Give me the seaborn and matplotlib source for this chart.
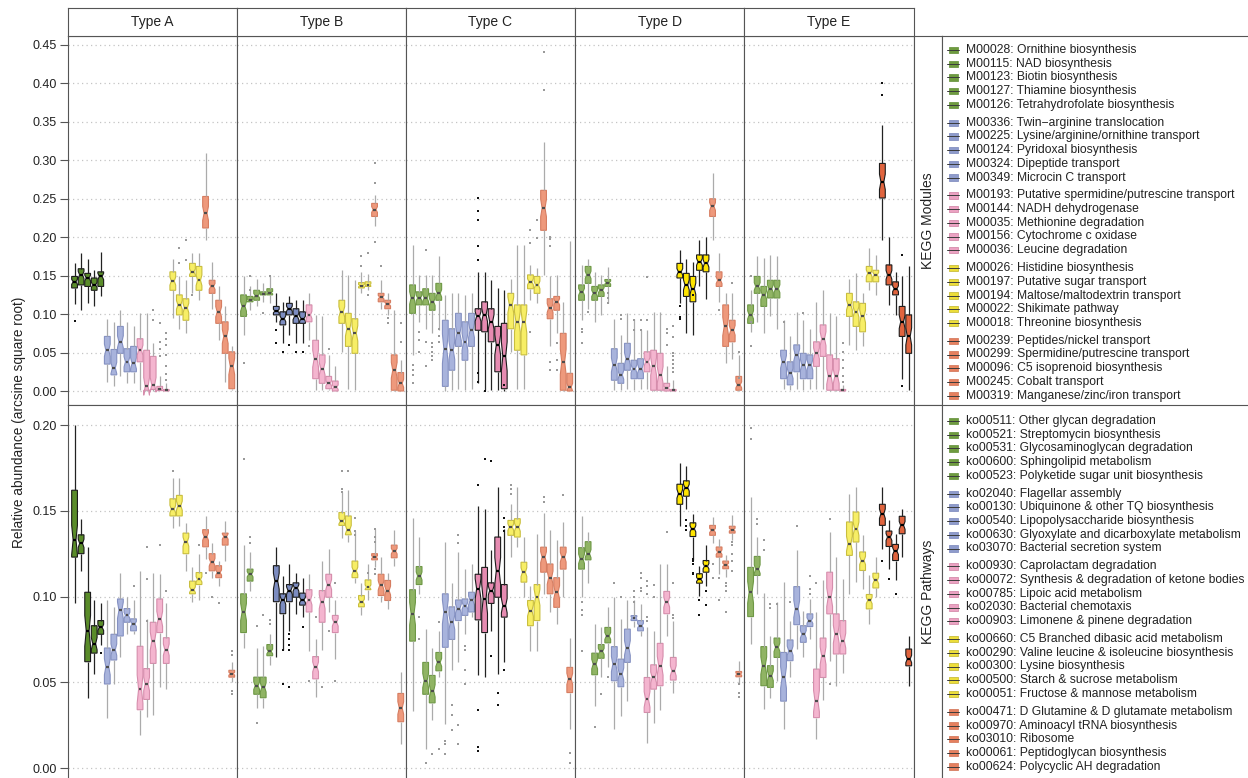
import numpy as np
import pandas as pd
import matplotlib
matplotlib.use("Agg")
import matplotlib.pyplot as plt
from matplotlib.patches import Rectangle
from matplotlib.ticker import FormatStrFormatter
import seaborn as sns

# ---------------------------------------------------------------- data
TYPES = ["Type A", "Type B", "Type C", "Type D", "Type E"]

MODULE_LABELS = [
    "M00028: Ornithine biosynthesis", "M00115: NAD biosynthesis", "M00123: Biotin biosynthesis",
    "M00127: Thiamine biosynthesis", "M00126: Tetrahydrofolate biosynthesis",
    "M00336: Twin\u2212arginine translocation", "M00225: Lysine/arginine/ornithine transport",
    "M00124: Pyridoxal biosynthesis", "M00324: Dipeptide transport", "M00349: Microcin C transport",
    "M00193: Putative spermidine/putrescine transport", "M00144: NADH dehydrogenase",
    "M00035: Methionine degradation", "M00156: Cytochrome c oxidase", "M00036: Leucine degradation",
    "M00026: Histidine biosynthesis", "M00197: Putative sugar transport",
    "M00194: Maltose/maltodextrin transport", "M00022: Shikimate pathway", "M00018: Threonine biosynthesis",
    "M00239: Peptides/nickel transport", "M00299: Spermidine/putrescine transport",
    "M00096: C5 isoprenoid biosynthesis", "M00245: Cobalt transport", "M00319: Manganese/zinc/iron transport",
]
PATHWAY_LABELS = [
    "ko00511: Other glycan degradation", "ko00521: Streptomycin biosynthesis",
    "ko00531: Glycosaminoglycan degradation", "ko00600: Sphingolipid metabolism",
    "ko00523: Polyketide sugar unit biosynthesis",
    "ko02040: Flagellar assembly", "ko00130: Ubiquinone & other TQ biosynthesis",
    "ko00540: Lipopolysaccharide biosynthesis", "ko00630: Glyoxylate and dicarboxylate metabolism",
    "ko03070: Bacterial secretion system",
    "ko00930: Caprolactam degradation", "ko00072: Synthesis & degradation of ketone bodies",
    "ko00785: Lipoic acid metabolism", "ko02030: Bacterial chemotaxis", "ko00903: Limonene & pinene degradation",
    "ko00660: C5 Branched dibasic acid metabolism", "ko00290: Valine leucine & isoleucine biosynthesis",
    "ko00300: Lysine biosynthesis", "ko00500: Starch & sucrose metabolism", "ko00051: Fructose & mannose metabolism",
    "ko00471: D Glutamine & D glutamate metabolism", "ko00970: Aminoacyl tRNA biosynthesis",
    "ko03010: Ribosome", "ko00061: Peptidoglycan biosynthesis", "ko00624: Polycyclic AH degradation",
]

# (whisker low, Q1, median, Q3, whisker high) per feature, KEGG modules
MOD_A = [(0.113,0.134,0.142,0.149,0.166),(0.105,0.138,0.151,0.159,0.179),(0.114,0.136,0.147,0.153,0.172),
         (0.110,0.131,0.138,0.147,0.157),(0.123,0.136,0.149,0.155,0.181),
         (0.012,0.035,0.053,0.071,0.094),(0.006,0.021,0.030,0.054,0.090),(0.019,0.049,0.064,0.084,0.105),
         (0.010,0.025,0.038,0.055,0.090),(0.010,0.025,0.036,0.058,0.085),
         (0.001,0.038,0.053,0.068,0.102),(0.000,0.001,0.006,0.053,0.101),(0.000,0.002,0.008,0.045,0.062),
         (0.000,0.0005,0.002,0.006,0.019),(0.000,0.000,0.001,0.002,0.010),
         (0.095,0.131,0.143,0.155,0.172),(0.081,0.099,0.112,0.125,0.149),(0.075,0.092,0.108,0.120,0.144),
         (0.127,0.149,0.155,0.166,0.179),(0.118,0.131,0.144,0.162,0.179),
         (0.196,0.212,0.231,0.253,0.309),(0.107,0.127,0.136,0.144,0.168),(0.066,0.088,0.103,0.118,0.136),
         (0.012,0.049,0.071,0.090,0.110),(0.001,0.003,0.032,0.051,0.058)]
MOD_B = [(0.073,0.097,0.110,0.125,0.149),(0.105,0.116,0.118,0.123,0.137),(0.110,0.118,0.124,0.131,0.146),
         (0.116,0.125,0.126,0.129,0.140),(0.114,0.125,0.128,0.133,0.149),
         (0.090,0.099,0.104,0.110,0.127),(0.062,0.086,0.094,0.103,0.116),(0.073,0.099,0.107,0.114,0.123),
         (0.062,0.088,0.097,0.107,0.118),(0.062,0.088,0.094,0.103,0.118),
         (0.066,0.090,0.099,0.112,0.127),(0.001,0.016,0.042,0.066,0.099),(0.001,0.010,0.029,0.047,0.097),
         (0.001,0.003,0.010,0.019,0.047),(0.000,0.000,0.005,0.013,0.032),
         (0.051,0.088,0.103,0.118,0.157),(0.003,0.058,0.081,0.101,0.151),(0.001,0.049,0.075,0.094,0.144),
         (0.128,0.134,0.137,0.141,0.155),(0.131,0.136,0.138,0.142,0.152),
         (0.214,0.227,0.236,0.244,0.255),(0.107,0.116,0.122,0.127,0.144),(0.099,0.107,0.113,0.118,0.127),
         (0.000,0.001,0.027,0.047,0.105),(0.000,0.000,0.010,0.024,0.040)]
MOD_C = [(0.047,0.101,0.121,0.138,0.190),(0.090,0.112,0.121,0.129,0.151),(0.081,0.112,0.121,0.133,0.151),
         (0.075,0.105,0.116,0.127,0.151),(0.079,0.118,0.127,0.140,0.175),
         (0.000,0.006,0.055,0.092,0.125),(0.001,0.027,0.053,0.081,0.127),(0.003,0.058,0.075,0.101,0.127),
         (0.001,0.040,0.064,0.090,0.125),(0.003,0.058,0.079,0.101,0.127),
         (0.010,0.079,0.097,0.107,0.155),(0.001,0.077,0.099,0.116,0.155),(0.001,0.064,0.090,0.107,0.144),
         (0.001,0.025,0.060,0.084,0.134),(0.000,0.003,0.045,0.088,0.131),
         (0.051,0.081,0.112,0.127,0.146),(0.003,0.053,0.090,0.112,0.190),(0.003,0.047,0.090,0.112,0.190),
         (0.118,0.133,0.142,0.151,0.164),(0.114,0.127,0.138,0.149,0.160),
         (0.151,0.209,0.238,0.261,0.324),(0.058,0.094,0.108,0.120,0.149),(0.075,0.105,0.116,0.123,0.151),
         (0.000,0.001,0.038,0.075,0.116),(0.000,0.000,0.005,0.023,0.195)]
MOD_D = [(0.092,0.118,0.129,0.138,0.164),(0.107,0.140,0.151,0.162,0.172),(0.090,0.118,0.127,0.136,0.155),
         (0.099,0.123,0.131,0.138,0.151),(0.114,0.136,0.141,0.145,0.161),
         (0.001,0.014,0.034,0.055,0.094),(0.001,0.010,0.021,0.036,0.073),(0.003,0.027,0.042,0.062,0.101),
         (0.001,0.016,0.029,0.040,0.094),(0.003,0.016,0.029,0.042,0.079),
         (0.003,0.025,0.038,0.051,0.079),(0.000,0.001,0.032,0.053,0.103),(0.000,0.001,0.021,0.049,0.103),
         (0.000,0.000,0.004,0.010,0.032),(0.000,0.000,0.001,0.002,0.014),
         (0.114,0.147,0.155,0.166,0.183),(0.075,0.123,0.138,0.153,0.172),(0.073,0.116,0.133,0.149,0.168),
         (0.136,0.157,0.168,0.177,0.196),(0.120,0.155,0.166,0.177,0.200),
         (0.196,0.227,0.240,0.250,0.283),(0.116,0.136,0.144,0.155,0.179),(0.036,0.058,0.084,0.112,0.127),
         (0.042,0.064,0.079,0.092,0.127),(0.000,0.001,0.008,0.019,0.047)]
MOD_E = [(0.077,0.088,0.099,0.112,0.131),(0.090,0.127,0.136,0.149,0.175),(0.075,0.110,0.125,0.136,0.173),
         (0.097,0.121,0.133,0.144,0.177),(0.081,0.121,0.133,0.144,0.175),
         (0.003,0.016,0.038,0.053,0.092),(0.001,0.008,0.023,0.038,0.071),(0.003,0.025,0.047,0.060,0.103),
         (0.001,0.016,0.034,0.049,0.092),(0.003,0.016,0.034,0.047,0.081),
         (0.003,0.032,0.049,0.064,0.116),(0.003,0.045,0.068,0.086,0.131),(0.000,0.001,0.019,0.047,0.101),
         (0.000,0.001,0.019,0.042,0.097),(0.000,0.000,0.001,0.002,0.008),
         (0.060,0.097,0.112,0.127,0.146),(0.053,0.084,0.103,0.116,0.153),(0.058,0.077,0.097,0.114,0.127),
         (0.131,0.142,0.153,0.162,0.186),(0.125,0.142,0.151,0.157,0.177),
         (0.196,0.251,0.272,0.296,0.346),(0.112,0.138,0.151,0.164,0.200),(0.099,0.125,0.133,0.142,0.155),
         (0.016,0.071,0.090,0.110,0.149),(0.001,0.049,0.071,0.099,0.162)]

# outliers: (feature index, value)
MOD_A_OUT = [(0,0.091),(12,0.105),(12,0.092),(13,0.088),(13,0.064),(13,0.054),(13,0.046),(14,0.075),
             (14,0.068),(14,0.060),(14,0.047),(14,0.032),(14,0.022),(14,0.014),(16,0.186),(16,0.166),
             (17,0.196),(17,0.170),(18,0.125)]
MOD_B_OUT = [(0,0.036),(1,0.149),(1,0.131),(3,0.101),(4,0.150),(5,0.079),(5,0.063),(6,0.051),(7,0.060),
             (8,0.051),(9,0.051),(10,0.058),(13,0.055),(18,0.175),(18,0.163),(19,0.179),(19,0.125),
             (20,0.296),(20,0.271),(20,0.194),(21,0.163),(22,0.095),(22,0.088),(24,0.088),(24,0.064)]
MOD_C_OUT = [(0,0.034),(0,0.027),(0,0.021),(0,0.010),(1,0.077),(1,0.066),(1,0.051),(2,0.183),(2,0.064),
             (2,0.032),(3,0.062),(3,0.057),(3,0.051),(3,0.045),(3,0.040),(4,0.081),(4,0.071),(4,0.064),
             (10,0.251),(10,0.234),(10,0.222),(10,0.188),(10,0.171),(10,0.023),(10,0.012),(11,0.000),
             (14,0.008),(18,0.209),(18,0.193),(18,0.077),(19,0.222),(19,0.199),(20,0.441),(20,0.392),
             (21,0.200),(21,0.198),(21,0.188),(21,0.038),(21,0.027),(22,0.062),(22,0.040),(22,0.027)]
MOD_D_OUT = [(0,0.081),(0,0.077),(0,0.062),(1,0.103),(4,0.128),(4,0.121),(4,0.114),(6,0.099),(6,0.094),
             (8,0.092),(8,0.079),(9,0.092),(9,0.079),(10,0.148),(10,0.092),(13,0.080),(13,0.075),
             (13,0.060),(14,0.085),(14,0.070),(14,0.050),(14,0.045),(14,0.040),(14,0.035),(14,0.030),
             (14,0.025),(15,0.110),(15,0.096),(15,0.094),(17,0.125),(21,0.105),(23,0.141),(24,0.051),
             (24,0.017)]
MOD_E_OUT = [(0,0.149),(0,0.090),(0,0.058),(5,0.090),(8,0.101),(14,0.062),(14,0.051),(14,0.040),
             (14,0.030),(14,0.020),(14,0.012),(20,0.401),(20,0.385),(23,0.177),(23,0.006)]

# KEGG pathways
PATH_A = [(0.096,0.123,0.133,0.162,0.200),(0.115,0.125,0.131,0.136,0.145),(0.041,0.062,0.080,0.1025,0.129),
          (0.055,0.067,0.0725,0.083,0.098),(0.072,0.078,0.082,0.086,0.096),
          (0.029,0.049,0.059,0.070,0.098),(0.049,0.063,0.069,0.078,0.094),(0.065,0.077,0.092,0.0986,0.114),
          (0.078,0.085,0.089,0.093,0.100),(0.078,0.080,0.084,0.087,0.098),
          (0.019,0.034,0.046,0.071,0.115),(0.030,0.040,0.049,0.058,0.087),(0.031,0.061,0.074,0.085,0.114),
          (0.047,0.079,0.087,0.0986,0.113),(0.046,0.061,0.069,0.076,0.096),
          (0.140,0.147,0.151,0.157,0.169),(0.141,0.147,0.153,0.159,0.169),(0.115,0.125,0.132,0.137,0.143),
          (0.097,0.1016,0.104,0.109,0.117),(0.098,0.107,0.110,0.114,0.125),
          (0.122,0.129,0.135,0.139,0.147),(0.111,0.115,0.120,0.125,0.131),(0.106,0.111,0.114,0.118,0.121),
          (0.121,0.130,0.135,0.137,0.144),(0.050,0.053,0.055,0.057,0.062)]
PATH_B = [(0.070,0.079,0.091,0.1016,0.130),(0.1035,0.109,0.113,0.116,0.126),(0.035,0.043,0.048,0.053,0.070),
          (0.035,0.041,0.047,0.053,0.071),(0.060,0.0655,0.068,0.072,0.078),
          (0.0645,0.097,0.109,0.118,0.129),(0.069,0.090,0.098,0.1016,0.112),(0.080,0.097,0.1035,0.107,0.119),
          (0.090,0.0996,0.105,0.108,0.114),(0.088,0.095,0.098,0.102,0.111),
          (0.068,0.091,0.098,0.104,0.113),(0.0415,0.052,0.059,0.065,0.075),(0.069,0.085,0.097,0.1035,0.121),
          (0.091,0.0996,0.107,0.113,0.128),(0.0636,0.079,0.085,0.089,0.098),
          (0.134,0.1415,0.144,0.149,0.161),(0.132,0.136,0.139,0.147,0.162),(0.108,0.111,0.115,0.1207,0.138),
          (0.089,0.094,0.097,0.1006,0.108),(0.098,0.104,0.1055,0.1097,0.119),
          (0.1175,0.1214,0.123,0.125,0.1396),(0.097,0.1006,0.1065,0.113,0.123),(0.093,0.0977,0.1035,0.1094,0.114),
          (0.118,0.1226,0.1265,0.130,0.1386),(0.0138,0.027,0.035,0.0435,0.056)]
PATH_C = [(0.033,0.074,0.090,0.104,0.146),(0.1016,0.107,0.112,0.1175,0.135),(0.011,0.043,0.051,0.0616,0.081),
          (0.028,0.038,0.045,0.054,0.070),(0.053,0.0567,0.0616,0.0674,0.080),
          (0.0255,0.0704,0.091,0.1016,0.132),(0.057,0.075,0.085,0.094,0.108),(0.0616,0.086,0.093,0.098,0.126),
          (0.078,0.089,0.0947,0.0986,0.116),(0.088,0.091,0.0977,0.1025,0.119),
          (0.054,0.0864,0.1045,0.113,0.153),(0.053,0.079,0.0986,0.117,0.151),(0.080,0.096,0.1035,0.108,0.127),
          (0.055,0.0996,0.115,0.1347,0.164),(0.0616,0.088,0.0947,0.107,0.1396),
          (0.123,0.1357,0.1405,0.1444,0.154),(0.129,0.1347,0.1405,0.1454,0.164),(0.0996,0.1084,0.1142,0.120,0.135),
          (0.068,0.083,0.0918,0.0977,0.1064),(0.068,0.086,0.0996,0.107,0.1366),
          (0.1016,0.1142,0.123,0.1288,0.149),(0.0908,0.1016,0.111,0.119,0.1386),(0.084,0.0937,0.1025,0.111,0.1327),
          (0.0996,0.116,0.123,0.1288,0.1435),(0.0226,0.044,0.052,0.0587,0.0758)]
PATH_D = [(0.0996,0.116,0.122,0.1285,0.147),(0.108,0.1214,0.125,0.132,0.1376),(0.036,0.0544,0.0606,0.067,0.084),
          (0.0528,0.064,0.068,0.072,0.082),(0.0587,0.073,0.077,0.082,0.094),
          (0.0226,0.0509,0.0606,0.0708,0.0996),(0.0304,0.0474,0.0548,0.0635,0.087),(0.039,0.0616,0.070,0.081,0.0977),
          (0.082,0.086,0.0875,0.0889,0.0977),(0.077,0.080,0.083,0.086,0.0957),
          (0.0148,0.0324,0.040,0.0528,0.082),(0.0265,0.046,0.0528,0.0602,0.080),(0.0337,0.048,0.0597,0.0727,0.119),
          (0.077,0.090,0.0967,0.103,0.119),(0.044,0.0513,0.0567,0.0645,0.086),
          (0.141,0.1538,0.160,0.1655,0.1776),(0.1513,0.1585,0.1635,0.1675,0.176),(0.1214,0.135,0.1395,0.143,0.148),
          (0.1006,0.1078,0.110,0.1133,0.118),(0.1064,0.1142,0.1177,0.121,0.130),
          (0.131,0.1357,0.1386,0.1415,0.1464),(0.1133,0.123,0.1259,0.1289,0.1337),(0.1113,0.1162,0.1185,0.1207,0.1245),
          (0.133,0.137,0.139,0.141,0.1474),(0.049,0.0532,0.0548,0.0563,0.0626)]
PATH_E = [(0.0723,0.0883,0.1025,0.117,0.158),(0.1016,0.1123,0.116,0.1234,0.1347),(0.0343,0.048,0.0597,0.0708,0.102),
          (0.041,0.047,0.0538,0.0597,0.0772),(0.0509,0.0645,0.0704,0.0758,0.0967),
          (0.0226,0.039,0.0528,0.0674,0.1084),(0.0528,0.0626,0.0684,0.0747,0.086),(0.0694,0.0836,0.0928,0.1058,0.127),
          (0.0645,0.0733,0.078,0.083,0.0918),(0.0752,0.0825,0.086,0.0899,0.0986),
          (0.0168,0.0294,0.039,0.0577,0.0908),(0.0396,0.0528,0.0655,0.0758,0.1094),(0.0626,0.0899,0.0996,0.1142,0.1376),
          (0.048,0.0665,0.078,0.0899,0.123),(0.0557,0.0665,0.0743,0.086,0.1103),
          (0.1016,0.124,0.1308,0.1435,0.160),(0.1084,0.1318,0.1396,0.1493,0.1639),(0.1045,0.1152,0.121,0.126,0.1357),
          (0.084,0.0928,0.0977,0.1012,0.1123),(0.0996,0.105,0.1094,0.1136,0.123),
          (0.128,0.1415,0.1483,0.1538,0.1636),(0.1162,0.1292,0.1347,0.1382,0.1445),(0.1094,0.121,0.1265,0.1304,0.1366),
          (0.123,0.1366,0.1415,0.1468,0.1513),(0.048,0.0596,0.0636,0.0694,0.0772)]

PATH_A_OUT = [(4,0.067),(9,0.106),(11,0.129),(11,0.110),(11,0.086),(13,0.130),(14,0.103),(15,0.173),
              (19,0.130),(20,0.114),(21,0.100),(22,0.096),(24,0.068),(24,0.066),(24,0.045),(24,0.043)]
PATH_B_OUT = [(0,0.180),(1,0.135),(1,0.131),(2,0.083),(2,0.026),(3,0.089),(4,0.0866),(4,0.084),(6,0.069),
              (6,0.049),(7,0.078),(7,0.075),(7,0.072),(7,0.069),(7,0.047),(9,0.082),(10,0.051),(11,0.088),
              (12,0.047),(13,0.080),(14,0.108),(14,0.051),(15,0.173),(15,0.163),(15,0.161),(16,0.173),
              (17,0.146),(17,0.138),(17,0.136),(19,0.114),(20,0.1396),(20,0.135),(20,0.132),(20,0.116),(20,0.113)]
PATH_C_OUT = [(1,0.088),(1,0.075),(2,0.003),(3,0.008),(4,0.085),(4,0.011),(5,0.016),(5,0.014),(5,0.008),
              (6,0.037),(6,0.031),(6,0.022),(7,0.136),(7,0.131),(7,0.025),(7,0.014),(8,0.071),(8,0.069),
              (8,0.057),(8,0.049),(10,0.165),(10,0.034),(10,0.012),(10,0.010),(11,0.180),(12,0.179),
              (12,0.0655),(13,0.044),(13,0.037),(14,0.146),(14,0.1405),(14,0.138),(14,0.057),(15,0.165),
              (15,0.163),(15,0.160),(20,0.158),(20,0.155),(23,0.159),(24,0.009),(24,0.003)]
PATH_D_OUT = [(0,0.0967),(0,0.092),(0,0.089),(0,0.068),(2,0.024),(3,0.043),(4,0.053),(5,0.108),(6,0.0996),
              (8,0.103),(8,0.0996),(8,0.0967),(9,0.114),(9,0.111),(9,0.105),(9,0.103),(10,0.109),(10,0.106),
              (10,0.1016),(10,0.088),(10,0.086),(11,0.107),(11,0.0996),(13,0.1376),(14,0.108),(14,0.089),
              (14,0.0875),(16,0.1445),(16,0.141),(16,0.1386),(17,0.122),(17,0.121),(17,0.119),(17,0.114),
              (17,0.113),(18,0.0977),(18,0.089),(19,0.103),(19,0.0953),(20,0.119),(20,0.111),(21,0.111),
              (21,0.098),(22,0.108),(22,0.106),(22,0.1035),(22,0.091),(23,0.132),(23,0.130),(23,0.125),
              (23,0.121),(23,0.115),(24,0.049),(24,0.0435),(24,0.0415)]
PATH_E_OUT = [(0,0.198),(0,0.1916),(1,0.1454),(1,0.1425),(2,0.133),(2,0.127),(3,0.0957),(3,0.0934),
              (4,0.0957),(6,0.0967),(7,0.141),(9,0.112),(9,0.1045),(9,0.1016),(10,0.108),(12,0.145),
              (12,0.049),(20,0.121),(21,0.110),(22,0.1016)]

MOD_TICKS = [0.00, 0.05, 0.10, 0.15, 0.20, 0.25, 0.30, 0.35, 0.40, 0.45]
PATH_TICKS = [0.00, 0.05, 0.10, 0.15, 0.20]

# group of 5 features that is highlighted in each sample type
EMPHASIS_GROUP = {"Type A": 0, "Type B": 1, "Type C": 2, "Type D": 3, "Type E": 4}

# ---------------------------------------------------------------- style
BASE = ["#6E9B3F", "#8E9BCB", "#EBA2C2", "#ECDD3A", "#E5805F"]
EMPH_FILL = ["#5A8C2A", "#7C8CC0", "#E68BB1", "#FFE500", "#E0643E"]
PLAIN_FILL = ["#90B464", "#A8B3DC", "#F4B5CF", "#F7EE66", "#EE997C"]
PLAIN_EDGE = ["#6E9845", "#8591C2", "#D68DAC", "#C9BE3E", "#D67D61"]
EMPH_EDGE = "#1b1b1b"
REP = 10   # observations per summary value (controls notch size)

sns.set_theme(style="white")
plt.rcParams["font.family"] = ["Liberation Sans", "DejaVu Sans"]
TXT = "#222222"
SPINE = "#555555"

W, H = 1248, 778
fig = plt.figure(figsize=(W / 100, H / 100), dpi=100)


def add_ax(x0, y0, x1, y1):
    return fig.add_axes([x0 / W, 1 - y1 / H, (x1 - x0) / W, (y1 - y0) / H])


COL_EDGES = [68, 237, 406, 575, 744, 914]
ROWS = [
    dict(name="KEGG Modules", labels=MODULE_LABELS,
         data=[MOD_A, MOD_B, MOD_C, MOD_D, MOD_E],
         outs=[MOD_A_OUT, MOD_B_OUT, MOD_C_OUT, MOD_D_OUT, MOD_E_OUT],
         y=(36, 405), ylim=(-0.0182, 0.4617), ticks=MOD_TICKS, leg_y0=50),
    dict(name="KEGG Pathways", labels=PATHWAY_LABELS,
         data=[PATH_A, PATH_B, PATH_C, PATH_D, PATH_E],
         outs=[PATH_A_OUT, PATH_B_OUT, PATH_C_OUT, PATH_D_OUT, PATH_E_OUT],
         y=(405, 785), ylim=(-0.0099, 0.2117), ticks=PATH_TICKS, leg_y0=421),
]

for r, row in enumerate(ROWS):
    codes = [lab.split(":")[0] for lab in row["labels"]]
    for c, tname in enumerate(TYPES):
        ax = add_ax(COL_EDGES[c], row["y"][0], COL_EDGES[c + 1], row["y"][1])
        recs = []
        for i, st in enumerate(row["data"][c]):
            for v in st:
                recs.extend([(codes[i], i // 5, v)] * REP)
        df = pd.DataFrame(recs, columns=["feature", "group", "value"])
        odf = pd.DataFrame([(codes[i], i // 5, v) for i, v in row["outs"][c]],
                           columns=["feature", "group", "value"])
        for g in range(5):
            emph = g == EMPHASIS_GROUP[tname]
            fill = EMPH_FILL[g] if emph else PLAIN_FILL[g]
            edge = EMPH_EDGE if emph else PLAIN_EDGE[g]
            wcol = "#222222" if emph else "#ababab"
            mcol = "#000000" if emph else "#4d4d4d"
            sns.boxplot(data=df[df["group"] == g], x="feature", y="value", order=codes,
                        color=fill, linecolor=edge, saturation=1, width=0.88, notch=True,
                        whis=(0, 100), showfliers=False, showcaps=False, linewidth=0.8,
                        whiskerprops=dict(color=wcol, linewidth=0.9),
                        medianprops=dict(color=mcol, linewidth=1.6), ax=ax)
            sub = odf[odf["group"] == g]
            if len(sub):
                sns.stripplot(data=sub, x="feature", y="value", order=codes, jitter=False,
                              color="#111111" if emph else "#9a9a9a", size=2.0, marker="s",
                              linewidth=0, ax=ax, zorder=5)
        ax.set_xlim(-1.0, 24.8)
        ax.set_ylim(*row["ylim"])
        ax.set_xticks([])
        ax.set_xlabel("")
        ax.set_ylabel("")
        ax.set_yticks(row["ticks"])
        ax.yaxis.set_major_formatter(FormatStrFormatter("%.2f"))
        ax.set_axisbelow(True)
        ax.yaxis.grid(True, color="#c4c4c4", linestyle=(0, (1, 2.6)), linewidth=0.9)
        ax.xaxis.grid(False)
        for sp in ax.spines.values():
            sp.set_color(SPINE)
            sp.set_linewidth(0.8)
        if c == 0:
            ax.tick_params(axis="y", left=True, length=6, width=0.8, color=SPINE,
                           labelsize=9, labelcolor=TXT, pad=2, direction="out")
        else:
            ax.tick_params(axis="y", left=False, labelleft=False)

    # right strip
    st_ax = add_ax(914, row["y"][0], 942, row["y"][1])
    st_ax.set_xticks([]); st_ax.set_yticks([])
    for sp in st_ax.spines.values():
        sp.set_color(SPINE); sp.set_linewidth(0.8)
    yc = 0.5 if r == 0 else (row["y"][1] - (row["y"][0] + 778) / 2) / (row["y"][1] - row["y"][0])
    st_ax.text(0.5, yc, row["name"], rotation=90, ha="center", va="center",
               fontsize=10, color=TXT, transform=st_ax.transAxes)

# header strips
for c, tname in enumerate(TYPES):
    hax = add_ax(COL_EDGES[c], 8, COL_EDGES[c + 1], 36)
    hax.set_xticks([]); hax.set_yticks([])
    for sp in hax.spines.values():
        sp.set_color(SPINE); sp.set_linewidth(0.8)
    hax.text(0.5, 0.5, tname, ha="center", va="center", fontsize=10, color=TXT,
             transform=hax.transAxes)

# legend panel
lax = add_ax(942, 36, 1250, 785)
lax.set_xlim(942, 1250)
lax.set_ylim(785, 36)
lax.set_xticks([]); lax.set_yticks([])
lax.set_facecolor("white")
for sp in lax.spines.values():
    sp.set_color(SPINE); sp.set_linewidth(0.8)
lax.axhline(405, color=SPINE, linewidth=0.8)
for row in ROWS:
    for k, lab in enumerate(row["labels"]):
        g, j = divmod(k, 5)
        yy = row["leg_y0"] + g * 72.7 + j * 13.7
        lax.add_patch(Rectangle((948.5, yy - 3.2), 9, 6.4, facecolor=BASE[g],
                                edgecolor=PLAIN_EDGE[g], linewidth=0.6))
        lax.plot([947, 959], [yy, yy], color="#3a3a3a", linewidth=0.7)
        lax.text(966, yy, lab, ha="left", va="center", fontsize=8.7, color=TXT)

fig.text(19 / W, 1 - 422 / H, "Relative abundance (arcsine square root)", rotation=90,
         ha="center", va="center", fontsize=9.8, color=TXT)

fig.savefig("out.png", dpi=100, facecolor="white")
